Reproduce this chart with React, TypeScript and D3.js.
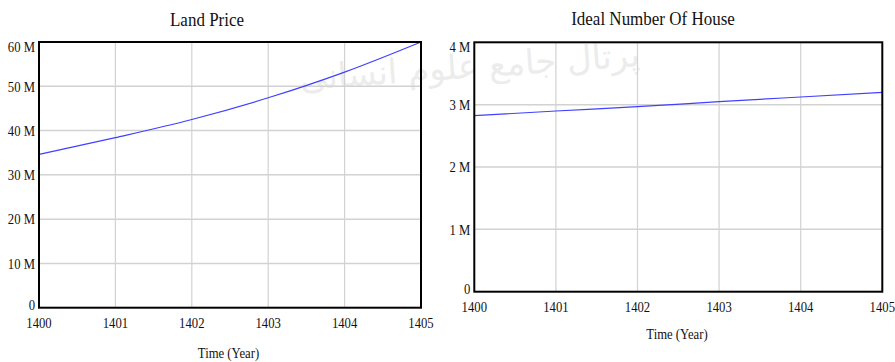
import * as d3 from 'd3'

// data (values in units, shown as "M")
const years = [1400, 1401, 1402, 1403, 1404, 1405]
const landPrice = [34.6e6, 38.4e6, 42.5e6, 47.4e6, 53.2e6, 60.0e6]
const idealHouses = [2.823e6, 2.898e6, 2.967e6, 3.047e6, 3.123e6, 3.198e6]
const landTicks = [0, 10e6, 20e6, 30e6, 40e6, 50e6, 60e6]
const houseTicks = [0, 1e6, 2e6, 3e6, 4e6]

const W = 895, H = 362
const FONT = '"Liberation Serif", "Times New Roman", serif'
const SY = 1.15 // text in the picture looks a bit stretched vertically

const fmtM = (v: number) => (v === 0 ? '0' : `${d3.format('d')(v / 1e6)} M`)

type Box = { x0: number; x1: number; y0: number; y1: number }

function Panel({ title, values, ticks, box, titleX, titleY, xTitleX, xTitleY }: {
  title: string; values: number[]; ticks: number[]; box: Box
  titleX: number; titleY: number; xTitleX: number; xTitleY: number
}) {
  const x = d3.scaleLinear().domain([years[0], years[years.length - 1]]).range([box.x0, box.x1])
  const y = d3.scaleLinear().domain([0, ticks[ticks.length - 1]]).range([box.y1, box.y0])
  const line = d3.line<number>().x((_, i) => x(years[i])).y(v => y(v)).curve(d3.curveMonotoneX)
  const txt = (tx: number, ty: number) => `translate(${tx},${ty}) scale(1,${SY})`

  return (
    <g fontFamily={FONT} fill="#111">
      <text transform={txt(titleX, titleY)} textAnchor="middle" fontSize={17}>{title}</text>

      {/* grid */}
      {years.slice(1, -1).map(yr => (
        <line key={yr} x1={x(yr)} x2={x(yr)} y1={box.y0} y2={box.y1} stroke="#d2d2d2" strokeWidth={1.2}/>
      ))}
      {ticks.slice(1, -1).map(t => (
        <line key={t} x1={box.x0} x2={box.x1} y1={y(t)} y2={y(t)} stroke="#d2d2d2" strokeWidth={1.5}/>
      ))}

      <path d={line(values) ?? ''} fill="none" stroke="#4040ff" strokeWidth={1.2}/>

      <rect x={box.x0} y={box.y0} width={box.x1 - box.x0} height={box.y1 - box.y0}
        fill="none" stroke="#000" strokeWidth={2}/>

      {/* y ticks */}
      {ticks.map(t => {
        const cy = Math.min(Math.max(y(t) + 0.5, box.y0 + 5), box.y1 - 2.5)
        return (
          <text key={t} transform={txt(box.x0 - 4, cy)} textAnchor="end" dominantBaseline="central"
            fontSize={12.7}>{fmtM(t)}</text>
        )
      })}

      {/* x ticks */}
      {years.map(yr => (
        <text key={yr} transform={txt(x(yr), box.y1 + 20)} textAnchor="middle" fontSize={12.7}>{yr}</text>
      ))}
      <text transform={txt(xTitleX, xTitleY)} textAnchor="middle" fontSize={12.7}>Time (Year)</text>
    </g>
  )
}

export default function App() {
  return (
    <svg width={W} height={H} style={{ position: 'absolute', left: 0, top: 0, background: '#fff' }}>
      <rect width={W} height={H} fill="#fff"/>
      {/* faint watermark from the source scan */}
      <text x={470} y={78} textAnchor="middle" fontSize={34} fill="#ececec"
        fontFamily='"DejaVu Sans", sans-serif' direction="rtl" transform="rotate(-4 470 70)">پرتال جامع علوم انسانی</text>
      <Panel title="Land Price" values={landPrice} ticks={landTicks}
        box={{ x0: 39, x1: 421, y0: 42, y1: 307.7 }}
        titleX={207} titleY={26} xTitleX={228.5} xTitleY={358}/>
      <Panel title="Ideal Number Of House" values={idealHouses} ticks={houseTicks}
        box={{ x0: 474.3, x1: 882.3, y0: 42.3, y1: 291.7 }}
        titleX={653} titleY={25} xTitleX={677} xTitleY={339}/>
    </svg>
  )
}
